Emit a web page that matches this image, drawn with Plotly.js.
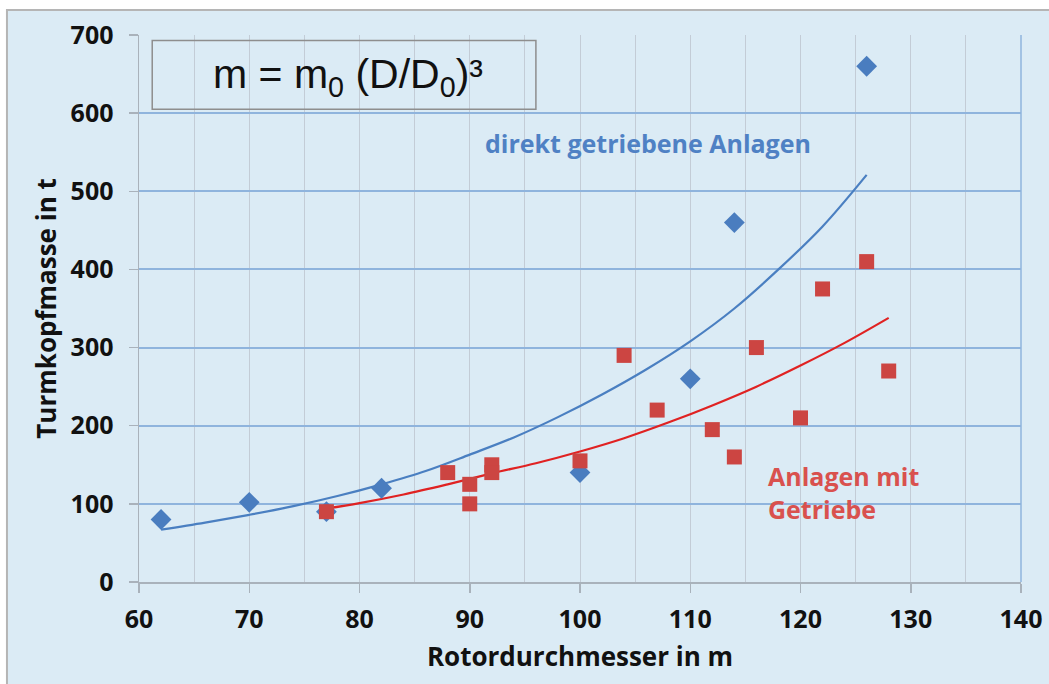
<!DOCTYPE html>
<html>
<head>
<meta charset="utf-8">
<script src="https://cdn.plot.ly/plotly-3.0.1.min.js"></script>
<style>html,body{margin:0;padding:0;background:#fff;}#chart{width:1049px;height:684px;}</style>
</head>
<body>
<div id="chart"></div>
<script>
// Direct-drive turbines (blue diamonds)
var directD = [62, 70, 77, 82, 100, 110, 114, 126];
var directM = [80, 102, 90, 120, 140, 260, 460, 660];
// Geared turbines (red squares)
var gearD = [77, 88, 90, 90, 92, 92, 100, 104, 107, 112, 114, 116, 120, 122, 126, 128];
var gearM = [90, 140, 125, 100, 150, 140, 155, 290, 220, 195, 160, 300, 210, 375, 410, 270];
// Trend curve (direct drive)
var directTrendD = [62, 66, 70, 74, 78, 82, 86, 90, 94, 98, 102, 106, 110, 114, 118, 122, 126];
var directTrendM = [67, 76, 86, 97, 110, 125, 142, 163, 185, 211, 240, 272, 308, 350, 400, 455, 521];
// Trend curve (geared)
var gearTrendD = [77, 80, 84, 88, 92, 96, 100, 104, 108, 112, 116, 120, 124, 128];
var gearTrendM = [94, 101, 112, 125, 139, 152, 167, 184, 204, 226, 250, 277, 306, 338];

var xTicks = [60, 70, 80, 90, 100, 110, 120, 130, 140];
var yTicks = [0, 100, 200, 300, 400, 500, 600, 700];

var labelFont = 'Open Sans, Noto Sans, sans-serif';
var bg = '#dbebf5';

var traces = [
  {x: directTrendD, y: directTrendM, mode: 'lines', line: {color: '#4a7fc1', width: 2.2, shape: 'spline'}, hoverinfo: 'skip'},
  {x: gearTrendD, y: gearTrendM, mode: 'lines', line: {color: '#e02222', width: 2.2, shape: 'spline'}, hoverinfo: 'skip'},
  {x: directD, y: directM, mode: 'markers', marker: {symbol: 'diamond', size: 16, color: '#4a7dbf'}},
  {x: gearD, y: gearM, mode: 'markers', marker: {symbol: 'square', size: 15, color: '#cc4542'}}
];

var layout = {
  width: 1049, height: 684,
  margin: {l: 139, r: 28, t: 35, b: 102},
  paper_bgcolor: '#ffffff',
  plot_bgcolor: bg,
  showlegend: false,
  font: {family: labelFont, color: '#111'},
  xaxis: {
    range: [60, 140], tickvals: xTicks, ticktext: xTicks.map(String),
    showgrid: true, gridcolor: '#c3ccd6', gridwidth: 1,
    minor: {dtick: 5, showgrid: true, gridcolor: '#c3ccd6', gridwidth: 1},
    showline: true, linecolor: '#a9b2bb', linewidth: 2,
    ticks: 'outside', ticklen: 9, tickcolor: '#a9b2bb', tickwidth: 1.5,
    ticklabelstandoff: 5,
    zeroline: false,
    tickfont: {family: labelFont, size: 25, color: '#111', weight: 700},
    title: {text: 'Rotordurchmesser in m', font: {family: labelFont, size: 26, color: '#111', weight: 700}, standoff: 14}
  },
  yaxis: {
    range: [0, 700], tickvals: yTicks, ticktext: yTicks.map(String),
    showgrid: true, gridcolor: '#8fb4dd', gridwidth: 2,
    showline: true, linecolor: '#a9b2bb', linewidth: 1.5,
    ticks: 'outside', ticklen: 9, tickcolor: '#a9b2bb', tickwidth: 1.5,
    ticklabelstandoff: 10,
    zeroline: false,
    tickfont: {family: labelFont, size: 25, color: '#111', weight: 700},
    title: {text: 'Turmkopfmasse in t', font: {family: labelFont, size: 26, color: '#111', weight: 700}, standoff: 6}
  },
  shapes: [
    {type: 'rect', xref: 'paper', yref: 'paper', x0: -0.1497, x1: 1.6, y0: -0.5, y1: 1.0457,
     fillcolor: bg, line: {color: '#b5b5b5', width: 2}, layer: 'below'},
    {type: 'line', xref: 'paper', yref: 'paper', x0: 1, x1: 1, y0: 0, y1: 1,
     line: {color: '#8fb4dd', width: 1.5}},
    {type: 'rect', xref: 'x', yref: 'y', x0: 61.2, x1: 96.0, y0: 605, y1: 693,
     line: {color: '#8e8e8e', width: 1.5}, fillcolor: 'rgba(0,0,0,0)'}
  ],
  annotations: [
    {x: 79.0, y: 646, xref: 'x', yref: 'y', showarrow: false,
     text: 'm = m<sub>0</sub> (D/D<sub>0</sub>)³',
     font: {family: 'Liberation Sans, Arial, sans-serif', size: 41, color: '#111'}},
    {x: 106.2, y: 562, xref: 'x', yref: 'y', showarrow: false,
     text: 'direkt getriebene Anlagen',
     font: {family: labelFont, size: 25, color: '#4f81c4', weight: 700}},
    {x: 116.9, y: 114, xref: 'x', yref: 'y', showarrow: false, xanchor: 'left', align: 'left',
     text: 'Anlagen mit<br>Getriebe',
     font: {family: labelFont, size: 25, color: '#d9514e', weight: 700}}
  ]
};

Plotly.newPlot('chart', traces, layout, {displayModeBar: false, staticPlot: true});
</script>
</body>
</html>
